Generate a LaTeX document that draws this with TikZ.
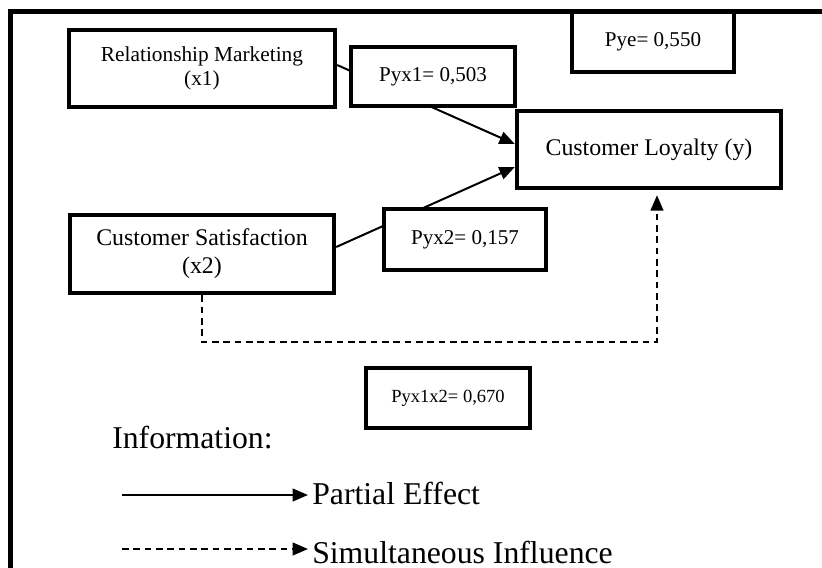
\documentclass[tikz,border=0pt]{standalone}
\usepackage{fontspec}
\setmainfont{Liberation Serif}
\usetikzlibrary{arrows.meta}

\begin{document}
\begin{tikzpicture}[x=0.75pt,y=-0.75pt,
  box/.style={draw, line width=3.3pt, inner sep=0pt, align=center, fill=white},
  link/.style={line width=1.5pt, -{Triangle[length=11.5pt,width=9.5pt]}},
  simlink/.style={link, dash pattern=on 5pt off 3.5pt},
  legendtext/.style={font=\fontsize{23.8pt}{28pt}\selectfont, inner sep=0pt}
]
\useasboundingbox (0,0) rectangle (822,568);

% main variables
\node[box, minimum width=199.5pt, minimum height=57.75pt,
      font=\fontsize{16pt}{18pt}\selectfont] (rm) at (202,68.5)
      {Relationship Marketing\\(x1)};
\node[box, minimum width=198pt, minimum height=58.5pt,
      font=\fontsize{17.9pt}{21pt}\selectfont] (cs) at (202,254)
      {Customer Satisfaction\\(x2)};
\node[box, minimum width=198pt, minimum height=57.75pt,
      font=\fontsize{17.9pt}{21pt}\selectfont] (cl) at (649,149.5)
      {Customer Loyalty (y)};

% partial paths
\draw[link] ([yshift=2.6pt]rm.east) -- ([yshift=4.1pt]cl.west);
\draw[link] ([yshift=5.25pt]cs.east) -- ([yshift=-13.1pt]cl.west);

% simultaneous path
\coordinate (sb) at (657,342);
\draw[simlink, shorten >=3.75pt] (cs.south) |- (sb) -| ([xshift=6pt]cl.south);

% path coefficients
\node[box, minimum width=123pt, minimum height=44.25pt,
      font=\fontsize{15.8pt}{18pt}\selectfont] (p1) at (433,76.5) {Pyx1= 0,503};
\node[box, minimum width=121.5pt, minimum height=45.75pt,
      font=\fontsize{15.8pt}{18pt}\selectfont] (p2) at (465,239.5) {Pyx2= 0,157};
\node[box, minimum width=121.5pt, minimum height=45pt,
      font=\fontsize{15.8pt}{18pt}\selectfont] (pe) at (653,42) {Pye= 0,550};
\node[box, minimum width=123pt, minimum height=45pt,
      font=\fontsize{13.9pt}{16pt}\selectfont] (p12) at (448,398) {Pyx1x2= 0,670};

% legend
\node[legendtext, anchor=base west] (info) at (112,448) {Information:};
\node[legendtext, anchor=base west] (lpe) at (312,504) {Partial Effect};
\node[legendtext, anchor=base west] (lsi) at (312,563) {Simultaneous Influence};
\coordinate (la) at (122,495);
\coordinate (lb) at (122,549);
\draw[link] (la) -- ([xshift=-3pt]la -| lpe.west);
\draw[simlink] (lb) -- ([xshift=-3pt]lb -| lsi.west);

% outer frame
\draw[line width=3.75pt] (10.5,575) -- (10.5,11.5) -- (830,11.5);
\end{tikzpicture}
\end{document}
